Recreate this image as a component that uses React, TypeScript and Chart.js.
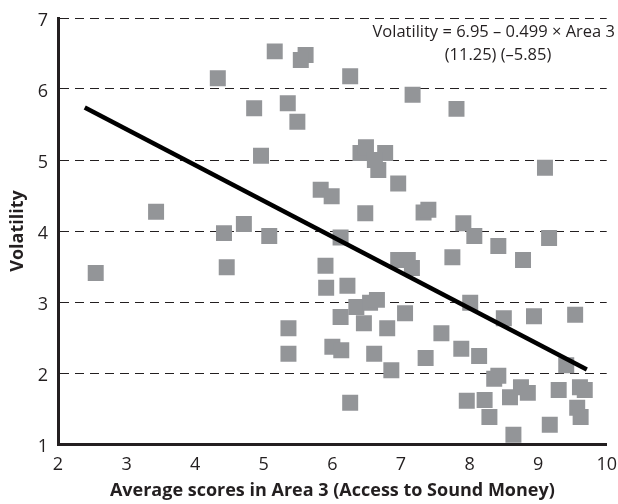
import React, { useEffect, useRef } from "react";
import { Chart, registerables } from "chart.js";

Chart.register(...registerables);

const pointsX = [
  5.16, 5.61, 5.54, 4.33, 4.86, 5.35, 5.49, 4.96, 5.83, 3.43,
  4.42, 4.71, 5.08, 6.26, 7.17, 7.81, 6.41, 6.49, 6.77, 6.67,
  6.62, 6.96, 9.10, 5.99, 6.48, 7.33, 7.40, 7.91, 8.07, 8.42,
  9.16, 6.12, 7.75, 8.78, 6.96, 7.10, 7.16, 2.55, 4.46, 5.90,
  5.91, 6.22, 5.36, 5.36, 6.12, 6.35, 6.55, 6.65, 6.46, 6.80,
  7.06, 7.59, 8.01, 8.50, 8.94, 9.54, 6.00, 6.13, 6.61, 6.86,
  7.36, 7.88, 8.14, 9.41, 8.36, 8.42, 8.75, 8.85, 9.30, 9.61,
  9.68, 8.59, 7.96, 8.22, 6.26, 8.29, 9.17, 9.57, 9.62, 8.64,
];
const pointsY = [
  6.53, 6.48, 6.41, 6.15, 5.73, 5.80, 5.54, 5.06, 4.58, 4.27,
  3.97, 4.10, 3.93, 6.18, 5.92, 5.72, 5.10, 5.18, 5.10, 4.86,
  5.00, 4.67, 4.89, 4.49, 4.25, 4.26, 4.30, 4.11, 3.93, 3.79,
  3.90, 3.91, 3.63, 3.59, 3.59, 3.59, 3.48, 3.41, 3.49, 3.51,
  3.20, 3.23, 2.63, 2.27, 2.79, 2.93, 2.99, 3.03, 2.70, 2.63,
  2.84, 2.56, 2.99, 2.77, 2.80, 2.82, 2.37, 2.32, 2.27, 2.04,
  2.21, 2.34, 2.24, 2.11, 1.92, 1.96, 1.80, 1.72, 1.76, 1.80,
  1.76, 1.66, 1.61, 1.62, 1.58, 1.38, 1.27, 1.51, 1.38, 1.13,
];
const fitLineX = [2.39, 9.71];
const fitLineY = [5.74, 2.05];

const xTitle = "Average scores in Area 3 (Access to Sound Money)";
const yTitle = "Volatility";
const equationLine1 = "Volatility = 6.95 \u2013 0.499 \u00d7 Area 3";
const equationLine2 = "(11.25) (\u20135.85)";

const FONT = "'Open Sans', 'Noto Sans', sans-serif";
const TEXT = "#231f20";

export default function App() {
  const ref = useRef<HTMLCanvasElement | null>(null);
  useEffect(() => {
    if (!ref.current) return;
    const annotation = {
      id: "equation",
      afterDraw(chart: any) {
        const ctx = chart.ctx;
        ctx.save();
        ctx.fillStyle = TEXT;
        ctx.font = `16.5px ${FONT}`;
        ctx.textBaseline = "middle";
        ctx.textAlign = "right";
        ctx.fillText(equationLine1, 615, 32);
        ctx.textAlign = "center";
        ctx.fillText(equationLine2, 498, 55);
        ctx.restore();
      },
    };
    const chart = new Chart(ref.current, {
      type: "scatter",
      data: {
        datasets: [
          {
            type: "line",
            data: fitLineX.map((x, i) => ({ x, y: fitLineY[i] })),
            borderColor: "#000000",
            borderWidth: 4.5,
            pointRadius: 0,
            fill: false,
            order: 0,
          } as any,
          {
            data: pointsX.map((x, i) => ({ x, y: pointsY[i] })),
            pointStyle: "rect",
            pointRadius: 11.3,
            pointHoverRadius: 11.3,
            backgroundColor: "#939598",
            borderWidth: 0,
            order: 1,
          },
        ],
      },
      options: {
        animation: false,
        responsive: false,
        layout: { padding: { top: 18, right: 8, left: 0, bottom: 0 } },
        plugins: { legend: { display: false }, tooltip: { enabled: false } },
        events: [],
        scales: {
          x: {
            type: "linear",
            min: 2,
            max: 10,
            afterFit: (s: any) => {
              s.height = 60;
              s.paddingLeft = 0;
              s.paddingRight = 0;
            },
            ticks: {
              stepSize: 1,
              padding: 10,
              color: TEXT,
              font: { family: FONT, size: 18 },
              maxRotation: 0,
            },
            grid: { display: false, drawTicks: false },
            border: { display: true, color: TEXT, width: 3 },
            title: {
              display: true,
              text: xTitle,
              color: TEXT,
              font: { family: FONT, size: 18, weight: "bold" },
              padding: { top: 0, bottom: 2 },
            },
          },
          y: {
            type: "linear",
            min: 1,
            max: 7,
            afterFit: (s: any) => {
              s.width = 58;
              s.paddingTop = 0;
              s.paddingBottom = 0;
            },
            ticks: {
              stepSize: 1,
              padding: 10,
              labelOffset: 3,
              color: TEXT,
              font: { family: FONT, size: 18 },
            },
            grid: {
              display: true,
              drawTicks: false,
              color: "#231f20",
              lineWidth: 1,
            },
            border: { display: true, color: TEXT, width: 3, dash: [9, 6] },
            title: {
              display: true,
              text: yTitle,
              color: TEXT,
              font: { family: FONT, size: 18, weight: "bold" },
              padding: { top: 7, bottom: 0 },
            },
          },
        },
      },
      plugins: [annotation],
    } as any);
    return () => chart.destroy();
  }, []);
  return (
    <div style={{ position: "absolute", left: 0, top: 0, width: 618, height: 504, overflow: "hidden" }}>
      <canvas ref={ref} width={618} height={504} style={{ display: "block" }} />
    </div>
  );
}
